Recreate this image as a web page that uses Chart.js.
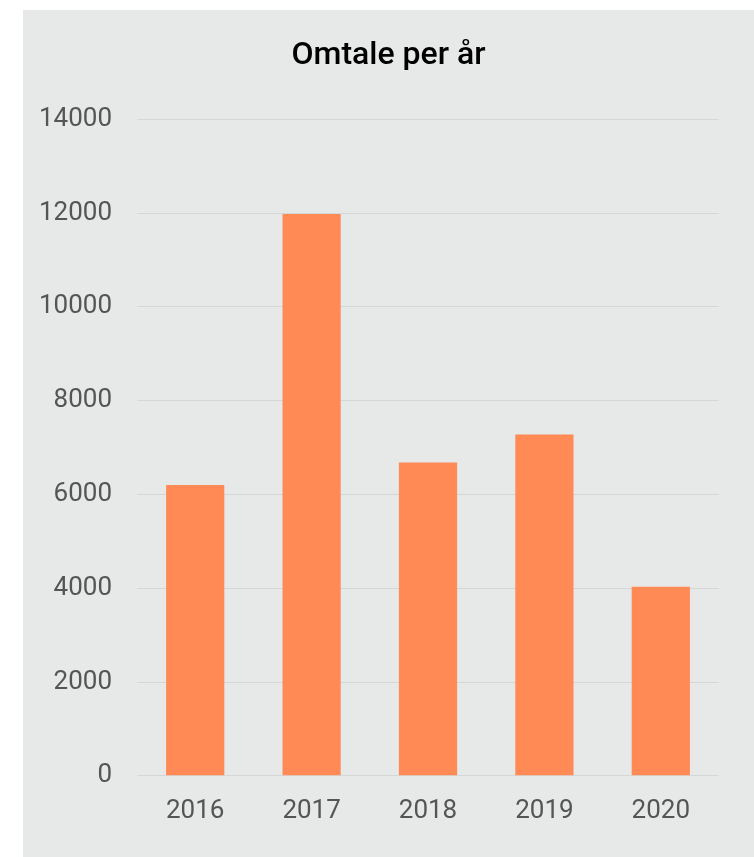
<!DOCTYPE html>
<html>
<head>
<meta charset="utf-8">
<script src="https://cdn.jsdelivr.net/npm/chart.js@4"></script>
<style>
  html, body { margin: 0; padding: 0; background: #fff; }
  #wrap { position: absolute; left: 23px; top: 10px; width: 731px; height: 847px; background: #e7e8e8; }
</style>
</head>
<body>
<div id="wrap"><canvas id="chart"></canvas></div>
<script>
const years = ['2016', '2017', '2018', '2019', '2020'];
const mentions = [6200, 11980, 6680, 7280, 4030];
const yTicks = [0, 2000, 4000, 6000, 8000, 10000, 12000, 14000];

const ctx = document.getElementById('chart').getContext('2d');
new Chart(ctx, {
  type: 'bar',
  data: {
    labels: years,
    datasets: [{
      label: 'Omtale',
      data: mentions,
      backgroundColor: '#ff8a55',
      borderWidth: 0,
      barPercentage: 0.5,
      categoryPercentage: 1
    }]
  },
  options: {
    responsive: true,
    maintainAspectRatio: false,
    animation: false,
    layout: { padding: { left: 15, right: 15, top: 0, bottom: 10 } },
    plugins: {
      legend: { display: false },
      tooltip: { enabled: false },
      title: {
        display: true,
        text: 'Omtale per år',
        color: '#000',
        font: { family: 'Roboto', size: 32, weight: '500' },
        padding: { top: 27, bottom: 44 }
      }
    },
    scales: {
      x: {
        grid: { display: false, drawTicks: false },
        border: { display: false },
        ticks: {
          color: '#555',
          font: { family: 'Roboto', size: 26 },
          padding: 20
        }
      },
      y: {
        min: 0,
        max: 14000,
        afterBuildTicks: axis => { axis.ticks = yTicks.map(v => ({ value: v })); },
        afterFit: axis => { axis.width = 99; },
        grid: { color: '#d5d6d6', drawTicks: false },
        border: { display: false },
        ticks: {
          color: '#555',
          font: { family: 'Roboto', size: 26 },
          padding: 25,
          callback: v => String(v)
        }
      },
      spacer: {
        position: 'right',
        min: 0,
        max: 14000,
        afterFit: axis => { axis.width = 20; },
        grid: { display: false, drawTicks: false },
        border: { display: false },
        ticks: { display: false }
      }
    }
  }
});
</script>
</body>
</html>
